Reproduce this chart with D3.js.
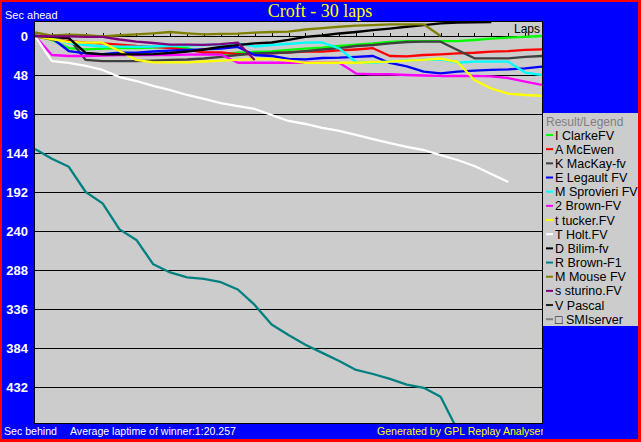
<!DOCTYPE html>
<html><head><meta charset="utf-8">
<script src="https://cdn.jsdelivr.net/npm/d3@7"></script>
<style>body{margin:0;background:#fff} svg{display:block}</style>
</head><body><svg id="c" width="641" height="442"></svg>
<script>
const title = "Croft - 30 laps";
const lapsCount = 30;
const yTicks = [0,48,96,144,192,240,288,336,384,432];
const drivers = ["I ClarkeFV","A McEwen","K MacKay-fv","E Legault FV","M Sprovieri FV","2 Brown-FV","t tucker.FV","T Holt.FV","D Bilim-fv","R Brown-F1","M Mouse FV","s sturino.FV","V Pascal","SMIserver"];
const colors = ["#00ff00","#ff0000","#404040","#0000ff","#00ffff","#ff00ff","#ffff00","#ffffff","#000000","#008080","#808000","#800080","#202020","#808080"];

// seconds behind (positive) / ahead (negative) per lap, index = lap
const clarke    = [0,4.9,14.8,16.4,15.6,14.8,14.8,14.2,13.2,14.8,21.5,22.2,20.6,19.7,19.1,17.2,15.6,14.2,12.3,10.5,9.2,7.4,6.4,6.2,6.2,6.2,4.9,3.3,2.1,1.2,0];
const mcewen    = [0,4.3,6.2,8.2,9,10.5,12.3,13.5,14.8,17.2,20.1,20.3,22.2,22.2,21.3,20.1,19.3,19.3,17.8,16.6,15.0,24.6,25.2,23.4,22.5,21.3,20.6,19.3,18.5,17.2,16.4];
const mackay    = [0,1.2,2.5,29.5,30.8,30.8,30.8,30.2,29.5,28.9,27.7,25.8,23.4,21.5,20.9,20.3,18.5,16.6,14.8,12.3,11.1,9.2,7.4,7.0,7.0,17.2,27.5,27.5,27.5,25.8,24.6];
const legault   = [0,2.5,18.5,21.3,22.2,20.6,20.6,19.1,18.1,17.2,16.4,15.4,13.5,23.4,24.6,28.3,28.7,27.1,26.7,25.8,24.6,33.2,37.5,43.9,45.9,43.9,42.7,41.8,41.2,39.8,37.8];
const sprovieri = [0,2.5,8.6,11.1,12.9,13.2,13.2,12.9,12.3,11.7,11.1,10.5,9.2,12.9,11.1,9.8,8.2,8.0,15.4,32.0,32.9,31.6,30.2,29.5,28.9,32.9,31.6,31.6,31.6,45,48];
const brown2    = [0,23.4,24.6,24.6,24.0,23.4,23.4,23.4,23.4,22.8,22.5,22.8,32.9,32.9,32.9,32.9,32.9,32.9,32.9,46.2,47.1,47.1,48.0,48.6,49.2,49.2,49.2,49.8,51.7,56.2,60.3];
const tucker    = [0,3.7,7.4,8.2,8.2,18.5,29.5,32.4,32.4,32.4,31.4,30.4,29.5,28.3,28.3,30.4,33.2,32.9,32.9,32.9,32.0,31.6,30.2,29.5,27.7,32.0,54.2,64.6,70.8,72.6,73.8];
const holt      = [0,30.8,33.2,36.9,41.8,50.5,55.4,61.5,66.5,72.6,77.5,82.5,86.2,89.8,97.2,104.6,108.3,113.2,116.9,121.8,126.8,131.7,136.6,140.3,146.5,152.6,160,169.8,179.7];
const bilim     = [0,1.2,2.5,20.9,22.5,22.5,22.5,22.2,20.9,19.1,16.6,13.5,11.1,9.2,8.0,4.9,1.2,-0.6,-3.1,-4.9,-7.1,-9.2,-11.4,-13.5,-15.6,-16.4,-16.9,-17.2];
const brownF1   = [139,151,161,192,206,238,251,281,291,297,299,303,312,331,355,368,380,390,400,411,416,422,429,433,444,485];
const mouse     = [-4.3,-0.6,-1.6,-0.9,0.4,-0.9,-2.1,-3.3,-4.9,-3.3,-2.1,-2.5,-2.8,-4.1,-4.9,-5.5,-8,-9.8,-11.4,-12.7,-13.5,-14.2,-14.4,-14.4,0];
const sturino   = [0,0.5,0.5,1,1.2,4.3,6.8,8.6,10.5,10.5,11,10,8.2,29.5];
const pascal    = [];
const smiserver = [];
const series = [clarke,mcewen,mackay,legault,sprovieri,brown2,tucker,holt,bilim,brownF1,mouse,sturino,pascal,smiserver];

const svg = d3.select("#c");
const W = 641, H = 442;
const SANS = "Liberation Sans, Arial, sans-serif";
svg.append("rect").attr("width",W).attr("height",H).attr("fill","#ff0000");
svg.append("rect").attr("x",2).attr("y",2).attr("width",636).attr("height",437).attr("fill","#0000ff");

const PL = 35, PR = 542, PT = 22, PB = 423;
const x = d3.scaleLinear().domain([0,lapsCount]).range([PL,PR]);
const y = d3.scaleLinear().domain([0,432]).range([36,387]);

svg.append("rect").attr("x",PL-0.5).attr("y",PT-0.5).attr("width",PR-PL+1).attr("height",PB-PT+1)
  .attr("fill","#cccccc").attr("stroke","#000").attr("stroke-width",1);

const defs = svg.append("defs");
defs.append("clipPath").attr("id","pc").append("rect")
  .attr("x",PL).attr("y",PT).attr("width",PR-PL).attr("height",PB-PT);
defs.append("clipPath").attr("id","gc").append("rect").attr("x",0).attr("y",424).attr("width",PR+1).attr("height",18);

// horizontal grid + y labels
const yAxis = svg.append("g").attr("transform",`translate(${PL},0)`)
  .call(d3.axisLeft(y).tickValues(yTicks).tickSize(-(PR-PL)).tickPadding(7));
yAxis.select(".domain").remove();
yAxis.selectAll(".tick line").attr("stroke","#000").attr("shape-rendering","crispEdges");
yAxis.selectAll(".tick text").attr("fill","#fff").attr("font-family",SANS)
  .attr("font-size",13).attr("font-weight","bold");

// laps axis on zero line
const xAxis = svg.append("g").attr("transform",`translate(0,${y(0)})`)
  .call(d3.axisTop(x).tickValues(d3.range(1,lapsCount)).tickSize(3).tickFormat(""));
xAxis.select(".domain").remove();
xAxis.selectAll(".tick line").attr("stroke","#000").attr("shape-rendering","crispEdges");

svg.append("text").attr("x",540).attr("y",33).attr("text-anchor","end")
  .attr("font-family",SANS).attr("font-size",12).attr("fill","#000").text("Laps");

// lines
const line = d3.line().x((d,i)=>x(i)).y(d=>y(d));
const lg = svg.append("g").attr("clip-path","url(#pc)");
series.forEach((s,i)=>{
  if (s.length < 2) return;
  lg.append("path").datum(s).attr("d",line).attr("fill","none")
    .attr("stroke",colors[i]).attr("stroke-width",2.3).attr("stroke-linejoin","round");
});

// title and texts
svg.append("text").attr("x",320).attr("y",17).attr("text-anchor","middle")
  .attr("font-family","Liberation Serif, Times New Roman, serif").attr("font-size",18).attr("fill","#ffff00").text(title);
svg.append("text").attr("x",5).attr("y",19).attr("font-family",SANS)
  .attr("font-size",11).attr("fill","#fff").text("Sec ahead");
svg.append("text").attr("x",4).attr("y",435).attr("font-family",SANS)
  .attr("font-size",11).attr("fill","#fff").attr("textLength",53).attr("lengthAdjust","spacingAndGlyphs").text("Sec behind");
svg.append("text").attr("x",70).attr("y",435).attr("font-family",SANS)
  .attr("font-size",11).attr("fill","#fff").attr("textLength",166).attr("lengthAdjust","spacingAndGlyphs")
  .text("Average laptime of winner:1:20.257");
svg.append("text").attr("x",377).attr("y",435).attr("clip-path","url(#gc)").attr("font-family",SANS)
  .attr("font-size",11).attr("fill","#ffff00").attr("textLength",167).attr("lengthAdjust","spacingAndGlyphs")
  .text("Generated by GPL Replay Analyser");

// legend
const leg = svg.append("g");
leg.append("rect").attr("x",543).attr("y",113).attr("width",95).attr("height",213).attr("fill","#cccccc");
leg.append("text").attr("x",546).attr("y",126).attr("font-family",SANS)
  .attr("font-size",12).attr("fill","#808080").text("Result/Legend");
drivers.forEach((d,i)=>{
  const cy = 135 + i*14.17;
  leg.append("line").attr("x1",546).attr("x2",553).attr("y1",cy).attr("y2",cy)
    .attr("stroke",colors[i]).attr("stroke-width",2);
  leg.append("text").attr("x",555).attr("y",cy+4.5).attr("font-family",SANS)
    .attr("font-size",12.5).attr("fill","#000").text(i===13 ? "\u25A1 " + d : d);
});
</script></body></html>
